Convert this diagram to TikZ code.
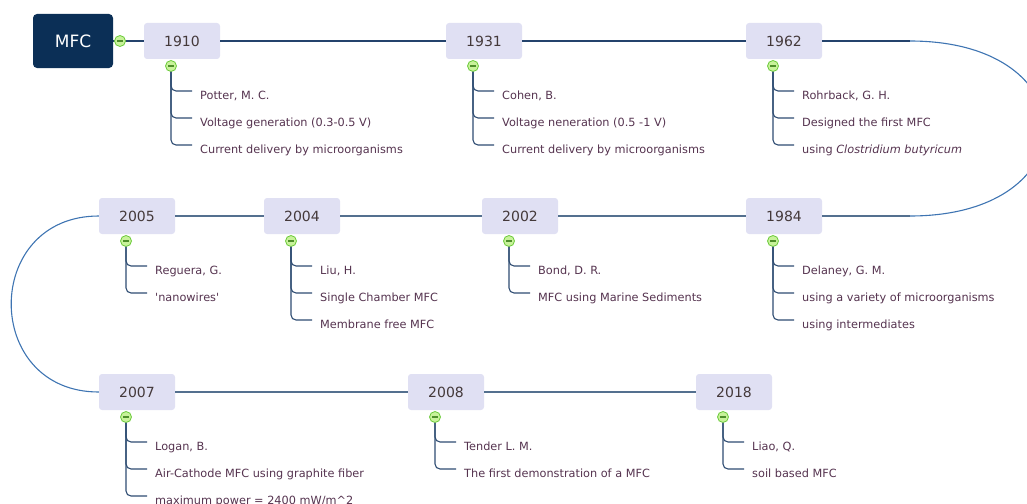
\documentclass[tikz,border=0pt]{standalone}
\usepackage{fontspec}
\setmainfont{DejaVu Sans}
\usepackage{tikz}
\usetikzlibrary{shapes,arrows,positioning}

\definecolor{rootfill}{HTML}{0B2F56}
\definecolor{yearfill}{HTML}{E0E0F3}
\definecolor{yeartext}{HTML}{44393A}
\definecolor{itemtext}{HTML}{55334F}
\definecolor{togglering}{HTML}{6CCB3C}
\definecolor{togglefill}{HTML}{C8F29A}
\definecolor{togglebar}{HTML}{4E8F2A}
\definecolor{branchblue}{HTML}{2E4C72}
\definecolor{spinetop}{HTML}{24436C}
\definecolor{spinelow}{HTML}{54708F}
\definecolor{loopblue}{HTML}{3E74B2}

\tikzset{
  root/.style={fill=rootfill, rounded corners=4pt, minimum width=80pt, minimum height=54pt, inner sep=0pt, text=white, font=\fontsize{17}{19}\selectfont},
  year/.style={fill=yearfill, rounded corners=3pt, minimum width=76pt, minimum height=36pt, inner sep=0pt, text=yeartext, font=\fontsize{14}{16}\selectfont},
  toggle/.style={circle, draw=togglering, fill=togglefill, line width=0.8pt, minimum size=11pt, inner sep=0pt,
    path picture={\draw[togglebar, line width=1.1pt] ([xshift=-3pt]path picture bounding box.center) -- ([xshift=3pt]path picture bounding box.center);}},
  item/.style={anchor=base west, inner sep=0pt, text=itemtext, font=\fontsize{11.3}{13}\selectfont},
  branch/.style={draw=branchblue, line width=1.1pt, rounded corners=5pt},
  spine/.style={draw=spinetop, line width=1.1pt},
  loopline/.style={draw=loopblue, line width=1.1pt}
}

\begin{document}
\begin{tikzpicture}[x=1pt, y=-1pt]
  \useasboundingbox (0,0) rectangle (1027,503);

  \node[root] (mfc) at (73,41) {MFC};

  \node[year] (y1910) at (182,41) {1910};
  \node[year] (y1931) at (484,41) {1931};
  \node[year] (y1962) at (784,41) {1962};
  \node[year] (y1984) at (784,216) {1984};
  \node[year] (y2002) at (520,216) {2002};
  \node[year] (y2004) at (302,216) {2004};
  \node[year] (y2005) at (137,216) {2005};
  \node[year] (y2007) at (137,392) {2007};
  \node[year] (y2008) at (446,392) {2008};
  \node[year] (y2018) at (734,392) {2018};

  \coordinate (rtop) at (910,41);
  \coordinate (rbot) at (910,216);

  \draw[spine] (mfc.east) -- (y1910.west);
  \draw[spine] (y1910.east) -- (y1931.west);
  \draw[spine] (y1931.east) -- (y1962.west);
  \draw[spine] (y1962.east) -- (rtop);
  \draw[loopline] (rtop) .. controls (1090,41) and (1090,216) .. (rbot);
  \draw[spine, spinelow] (rbot) -- (y1984.east);
  \draw[spine, spinelow] (y1984.west) -- (y2002.east);
  \draw[spine, spinelow] (y2002.west) -- (y2004.east);
  \draw[spine, spinelow] (y2004.west) -- (y2005.east);
  \draw[loopline] (y2005.west) .. controls (-18,216) and (-18,392) .. (y2007.west);
  \draw[spine, spinelow] (y2007.east) -- (y2008.west);
  \draw[spine, spinelow] (y2008.east) -- (y2018.west);

  \node[toggle] (troot) at (120,41) {};

  \node[toggle] (t1910) at (171,66) {};
  \node[toggle] (t1931) at (473,66) {};
  \node[toggle] (t1962) at (773,66) {};
  \node[toggle] (t1984) at (773,241) {};
  \node[toggle] (t2002) at (509,241) {};
  \node[toggle] (t2004) at (291,241) {};
  \node[toggle] (t2005) at (126,241) {};
  \node[toggle] (t2007) at (126,417) {};
  \node[toggle] (t2008) at (435,417) {};
  \node[toggle] (t2018) at (723,417) {};

  \node[item] (p1910a) at (200,99.5) {Potter, M. C.};
  \node[item] (p1910b) at (200,126.5) {Voltage generation (0.3-0.5 V)};
  \node[item] (p1910c) at (200,153.5) {Current delivery by microorganisms};
  \node[item] (p1931a) at (502,99.5) {Cohen, B.};
  \node[item] (p1931b) at (502,126.5) {Voltage neneration (0.5 -1 V)};
  \node[item] (p1931c) at (502,153.5) {Current delivery by microorganisms};
  \node[item] (p1962a) at (802,99.5) {Rohrback, G. H.};
  \node[item] (p1962b) at (802,126.5) {Designed the first MFC};
  \node[item] (p1962c) at (802,153.5) {using \textit{Clostridium butyricum}};

  \node[item] (p1984a) at (802,274.5) {Delaney, G. M.};
  \node[item] (p1984b) at (802,301.5) {using a variety of microorganisms};
  \node[item] (p1984c) at (802,328.5) {using intermediates};
  \node[item] (p2002a) at (538,274.5) {Bond, D. R.};
  \node[item] (p2002b) at (538,301.5) {MFC using Marine Sediments};
  \node[item] (p2004a) at (320,274.5) {Liu, H.};
  \node[item] (p2004b) at (320,301.5) {Single Chamber MFC};
  \node[item] (p2004c) at (320,328.5) {Membrane free MFC};
  \node[item] (p2005a) at (155,274.5) {Reguera, G.};
  \node[item] (p2005b) at (155,301.5) {\textquotesingle nanowires\textquotesingle};

  \node[item] (p2007a) at (155,450.5) {Logan, B.};
  \node[item] (p2007b) at (155,477.5) {Air-Cathode MFC using graphite fiber};
  \node[item] (p2007c) at (155,504.5) {maximum power = 2400 mW/m\textasciicircum 2};
  \node[item] (p2008a) at (464,450.5) {Tender L. M.};
  \node[item] (p2008b) at (464,477.5) {The first demonstration of a MFC};
  \node[item] (p2018a) at (752,450.5) {Liao, Q.};
  \node[item] (p2018b) at (752,477.5) {soil based MFC};

  \draw[branch] (t1910.south) |- ([xshift=-8pt,yshift=8.5pt]p1910a.base west);
  \draw[branch] (t1910.south) |- ([xshift=-8pt,yshift=8.5pt]p1910b.base west);
  \draw[branch] (t1910.south) |- ([xshift=-8pt,yshift=8.5pt]p1910c.base west);
  \draw[branch] (t1931.south) |- ([xshift=-8pt,yshift=8.5pt]p1931a.base west);
  \draw[branch] (t1931.south) |- ([xshift=-8pt,yshift=8.5pt]p1931b.base west);
  \draw[branch] (t1931.south) |- ([xshift=-8pt,yshift=8.5pt]p1931c.base west);
  \draw[branch] (t1962.south) |- ([xshift=-8pt,yshift=8.5pt]p1962a.base west);
  \draw[branch] (t1962.south) |- ([xshift=-8pt,yshift=8.5pt]p1962b.base west);
  \draw[branch] (t1962.south) |- ([xshift=-8pt,yshift=8.5pt]p1962c.base west);

  \draw[branch] (t1984.south) |- ([xshift=-8pt,yshift=8.5pt]p1984a.base west);
  \draw[branch] (t1984.south) |- ([xshift=-8pt,yshift=8.5pt]p1984b.base west);
  \draw[branch] (t1984.south) |- ([xshift=-8pt,yshift=8.5pt]p1984c.base west);
  \draw[branch] (t2002.south) |- ([xshift=-8pt,yshift=8.5pt]p2002a.base west);
  \draw[branch] (t2002.south) |- ([xshift=-8pt,yshift=8.5pt]p2002b.base west);
  \draw[branch] (t2004.south) |- ([xshift=-8pt,yshift=8.5pt]p2004a.base west);
  \draw[branch] (t2004.south) |- ([xshift=-8pt,yshift=8.5pt]p2004b.base west);
  \draw[branch] (t2004.south) |- ([xshift=-8pt,yshift=8.5pt]p2004c.base west);
  \draw[branch] (t2005.south) |- ([xshift=-8pt,yshift=8.5pt]p2005a.base west);
  \draw[branch] (t2005.south) |- ([xshift=-8pt,yshift=8.5pt]p2005b.base west);

  \draw[branch] (t2007.south) |- ([xshift=-8pt,yshift=8.5pt]p2007a.base west);
  \draw[branch] (t2007.south) |- ([xshift=-8pt,yshift=8.5pt]p2007b.base west);
  \draw[branch] (t2007.south) |- ([xshift=-8pt,yshift=8.5pt]p2007c.base west);
  \draw[branch] (t2008.south) |- ([xshift=-8pt,yshift=8.5pt]p2008a.base west);
  \draw[branch] (t2008.south) |- ([xshift=-8pt,yshift=8.5pt]p2008b.base west);
  \draw[branch] (t2018.south) |- ([xshift=-8pt,yshift=8.5pt]p2018a.base west);
  \draw[branch] (t2018.south) |- ([xshift=-8pt,yshift=8.5pt]p2018b.base west);
\end{tikzpicture}
\end{document}
